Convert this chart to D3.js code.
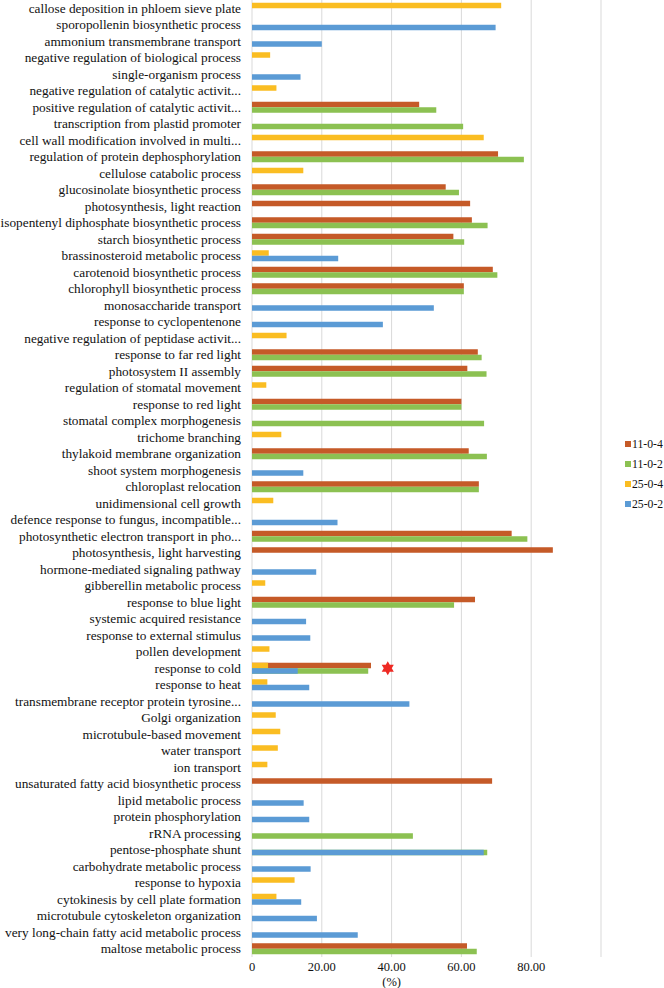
<!DOCTYPE html>
<html>
<head>
<meta charset="utf-8">
<script src="https://cdn.jsdelivr.net/npm/d3@7"></script>
<style>
  html, body { margin: 0; padding: 0; background: #fff; }
  svg { display: block; }
  #chart text { font-family: "Times New Roman", Times, "Liberation Serif", "DejaVu Serif", "Noto Serif", serif !important; }
</style>
</head>
<body>
<svg id="chart" width="664" height="988"></svg>
<script>
const categories = [
  "callose deposition in phloem sieve plate",
  "sporopollenin biosynthetic process",
  "ammonium transmembrane transport",
  "negative regulation of biological process",
  "single-organism process",
  "negative regulation of catalytic activit...",
  "positive regulation of catalytic activit...",
  "transcription from plastid promoter",
  "cell wall modification involved in multi...",
  "regulation of protein dephosphorylation",
  "cellulose catabolic process",
  "glucosinolate biosynthetic process",
  "photosynthesis, light reaction",
  "isopentenyl diphosphate biosynthetic process",
  "starch biosynthetic process",
  "brassinosteroid metabolic process",
  "carotenoid biosynthetic process",
  "chlorophyll biosynthetic process",
  "monosaccharide transport",
  "response to cyclopentenone",
  "negative regulation of peptidase activit...",
  "response to far red light",
  "photosystem II assembly",
  "regulation of stomatal movement",
  "response to red light",
  "stomatal complex morphogenesis",
  "trichome branching",
  "thylakoid membrane organization",
  "shoot system morphogenesis",
  "chloroplast relocation",
  "unidimensional cell growth",
  "defence response to fungus, incompatible...",
  "photosynthetic electron transport in pho...",
  "photosynthesis, light harvesting",
  "hormone-mediated signaling pathway",
  "gibberellin metabolic process",
  "response to blue light",
  "systemic acquired resistance",
  "response to external stimulus",
  "pollen development",
  "response to cold",
  "response to heat",
  "transmembrane receptor protein tyrosine...",
  "Golgi organization",
  "microtubule-based movement",
  "water transport",
  "ion transport",
  "unsaturated fatty acid biosynthetic process",
  "lipid metabolic process",
  "protein phosphorylation",
  "rRNA processing",
  "pentose-phosphate shunt",
  "carbohydrate metabolic process",
  "response to hypoxia",
  "cytokinesis by cell plate formation",
  "microtubule cytoskeleton organization",
  "very long-chain fatty acid metabolic process",
  "maltose metabolic process"
];

const seriesNames = ["11-0-4", "11-0-2", "25-0-4", "25-0-2"];
const seriesColors = ["#C55A28", "#8CC152", "#FABD22", "#5B9BD5"];

const s11_04 = [null,null,null,null,null,null,47.9,null,null,70.5,null,55.5,62.5,63.0,57.7,null,69.0,60.7,null,null,null,64.7,61.7,null,60.0,null,null,62.1,null,65.0,null,null,74.4,86.2,null,null,63.9,null,null,null,34.1,null,null,null,null,null,null,68.8,null,null,null,null,null,null,null,null,null,61.6];
const s11_02 = [null,null,null,null,null,null,52.8,60.5,null,77.9,null,59.3,null,67.5,60.8,null,70.3,60.7,null,null,null,65.8,67.2,null,60.0,66.5,null,67.3,null,65.0,null,null,78.9,null,null,null,57.9,null,null,null,33.3,null,null,null,null,null,null,null,null,null,46.1,67.4,null,null,null,null,null,64.4];
const s25_04 = [71.4,null,null,5.2,null,7.0,null,null,66.4,null,14.7,null,null,null,null,4.8,null,null,null,null,9.9,null,null,4.1,null,null,8.4,null,null,null,6.1,null,null,null,null,3.8,null,null,null,5.0,4.6,4.4,null,6.8,8.1,7.4,4.4,null,null,null,null,null,null,12.2,7.0,null,null,null];
const s25_02 = [null,69.8,20.0,null,13.9,null,null,null,null,null,null,null,null,null,null,24.7,null,null,52.1,37.5,null,null,null,null,null,null,null,null,14.7,null,null,24.5,null,null,18.4,null,null,15.5,16.7,null,13.1,16.4,45.1,null,null,null,null,null,14.8,16.4,null,66.4,16.8,null,14.1,18.6,30.3,null];

const xTicks = [0, 20, 40, 60, 80];
const xGrid = [20, 40, 60, 80, 100];
const xTitle = "(%)";
const starCategory = "response to cold";
const starValue = 38.9;

const FONT = '"Times New Roman", Times, "Liberation Serif", "DejaVu Serif", serif';

const svg = d3.select("#chart");
const W = 664, H = 988;
svg.append("rect").attr("width", W).attr("height", H).attr("fill", "#fff");

const plot = { left: 252, right: 601, top: 0, bottom: 957 };

const x = d3.scaleLinear().domain([0, 100]).range([plot.left, plot.right]);
const y = d3.scaleBand().domain(categories).range([plot.top, plot.bottom]).paddingInner(0).paddingOuter(0);
const slot = d3.scaleBand().domain(["top", "bottom"]).range([0, y.bandwidth()]).paddingInner(0).paddingOuter(0.5);

// grid
svg.append("g").selectAll("line").data(xGrid).join("line")
  .attr("x1", d => x(d)).attr("x2", d => x(d))
  .attr("y1", plot.top).attr("y2", plot.bottom)
  .attr("stroke", "#D9D9D9").attr("stroke-width", 1);

// category axis line
svg.append("line")
  .attr("x1", x(0)).attr("x2", x(0)).attr("y1", plot.top).attr("y2", plot.bottom)
  .attr("stroke", "#D9D9D9").attr("stroke-width", 1);

// bars: draw order 11-0-4, 25-0-4 (top slot), 11-0-2, 25-0-2 (bottom slot)
const layers = [
  { vals: s11_04, color: seriesColors[0], pos: "top" },
  { vals: s25_04, color: seriesColors[2], pos: "top" },
  { vals: s11_02, color: seriesColors[1], pos: "bottom" },
  { vals: s25_02, color: seriesColors[3], pos: "bottom" }
];
const barG = svg.append("g");
layers.forEach(L => {
  const data = categories.map((c, i) => ({ c, v: L.vals[i] })).filter(d => d.v != null);
  barG.append("g").selectAll("rect").data(data).join("rect")
    .attr("x", x(0))
    .attr("y", d => y(d.c) + slot(L.pos))
    .attr("width", d => x(d.v) - x(0))
    .attr("height", slot.bandwidth())
    .attr("fill", L.color);
});

function styleText(sel, size) {
  sel.style("font-family", FONT).style("font-size", size + "px").attr("fill", "#111");
}

// category labels
svg.append("g").selectAll("text").data(categories).join("text")
  .attr("x", 241)
  .attr("y", d => y(d) + y.bandwidth() / 2)
  .attr("text-anchor", "end")
  .attr("dominant-baseline", "central")
  .call(styleText, 13.3)
  .text(d => d);

// x tick labels
svg.append("g").selectAll("text").data(xTicks).join("text")
  .attr("x", d => x(d))
  .attr("y", 967)
  .attr("text-anchor", "middle")
  .attr("dominant-baseline", "central")
  .call(styleText, 12.5)
  .text(d => d === 0 ? "0" : d3.format(".2f")(d));

svg.append("text")
  .attr("x", x(40)).attr("y", 982)
  .attr("text-anchor", "middle").attr("dominant-baseline", "central")
  .call(styleText, 12.5)
  .text(xTitle);

// star annotation (six-pointed)
const sx = x(starValue), sy = y(starCategory) + y.bandwidth() / 2;
const R = 7, r = 4;
const pts = d3.range(12).map(k => {
  const a = -Math.PI / 2 + k * Math.PI / 6;
  const rad = k % 2 === 0 ? R : r;
  return [rad * Math.cos(a), rad * Math.sin(a)];
});
svg.append("path")
  .attr("transform", `translate(${sx},${sy})`)
  .attr("d", d3.line()(pts) + "Z")
  .attr("fill", "#EE2A24");

// legend
const legend = svg.append("g");
const legY = [444, 464, 484, 504];
seriesNames.forEach((n, i) => {
  legend.append("rect").attr("x", 625).attr("y", legY[i] - 3).attr("width", 6).attr("height", 6).attr("fill", seriesColors[i]);
  legend.append("text").attr("x", 632).attr("y", legY[i]).attr("dominant-baseline", "central")
    .call(styleText, 11.7).text(n);
});
</script>
</body>
</html>
